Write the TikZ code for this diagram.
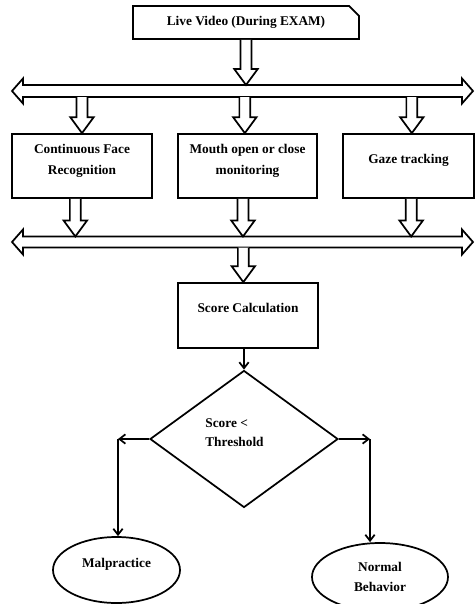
\documentclass[tikz,border=0pt]{standalone}
\usepackage{fontspec}
\setmainfont{Liberation Serif}
\usetikzlibrary{shapes.misc,shapes.geometric,arrows.meta,calc}

\newcommand{\fatdown}[2]{%
\draw[fat] let \p1=(#1), \p2=(#2) in
(\x1-4.1pt,\y1) -- (\x1-4.1pt,\y2+12pt) -- (\x1-8.8pt,\y2+12pt) -- (\x1,\y2)
-- (\x1+8.8pt,\y2+12pt) -- (\x1+4.1pt,\y2+12pt) -- (\x1+4.1pt,\y1);}

\begin{document}
\begin{tikzpicture}[x=0.75pt,y=-0.75pt,
box/.style={draw,line width=1.3pt,align=center,font=\fontsize{10}{15.75}\selectfont\bfseries},
txt/.style={font=\fontsize{10}{14.25}\selectfont\bfseries,inner sep=0pt},
fat/.style={line width=1.3pt,fill=white,line join=miter},
arr/.style={line width=1.3pt,-{Straight Barb[length=4.5pt,width=7pt]}}]
\useasboundingbox (0,0) rectangle (475,604);

\node[box,chamfered rectangle,chamfered rectangle corners=north east,chamfered rectangle xsep=3pt,chamfered rectangle ysep=4.5pt,minimum width=169.5pt,minimum height=23.25pt] (live) at (246,22.5) {Live Video (During EXAM)};

\coordinate (busAtop) at (0,85);
\coordinate (busAbot) at (0,97);
\coordinate (busBtop) at (0,236.5);
\coordinate (busBbot) at (0,247.5);
\draw[fat] (12,91) -- (23,78.5) -- (23,85) -- (462,85) -- (462,78.5) -- (473,91) -- (462,103.5) -- (462,97) -- (23,97) -- (23,103.5) -- cycle;
\draw[fat] (12,242) -- (23,229.5) -- (23,236.5) -- (462,236.5) -- (462,229.5) -- (473,242) -- (462,254.5) -- (462,247.5) -- (23,247.5) -- (23,254.5) -- cycle;

\node[box,minimum width=105pt,minimum height=48pt,text depth=9.25pt] (face) at (82,166) {Continuous Face\\Recognition};
\node[box,minimum width=104.25pt,minimum height=48pt,text depth=9.25pt] (mouth) at (247.5,166) {Mouth open or close\\monitoring};
\node[box,minimum width=98.25pt,minimum height=48pt,text depth=10.8pt] (gaze) at (408.5,166) {Gaze tracking};
\node[box,minimum width=105pt,minimum height=48.75pt,text depth=11.5pt] (score) at (248,315.5) {Score Calculation};

\fatdown{live.south}{busAtop}
\fatdown{face.north |- busAbot}{face.north}
\fatdown{[xshift=-2pt]mouth.north |- busAbot}{mouth.north}
\fatdown{[xshift=2.5pt]gaze.north |- busAbot}{gaze.north}
\fatdown{[xshift=-5pt]face.south}{busBtop}
\fatdown{[xshift=-3.4pt]mouth.south}{busBtop}
\fatdown{[xshift=2pt]gaze.south}{busBtop}
\fatdown{[xshift=-3.5pt]score.north |- busBbot}{score.north}

\node[draw,diamond,line width=1.3pt,minimum width=141pt,minimum height=102.75pt] (dec) at (244,439) {};
\node[txt,align=left] (crit) at (234.5,432.5) {Score <\\Threshold};

\node[box,ellipse,minimum width=95.25pt,minimum height=49.5pt,text depth=10.8pt] (mal) at (116.5,570) {Malpractice};
\node[box,ellipse,minimum width=102pt,minimum height=51pt,font=\fontsize{10}{15}\selectfont\bfseries] (nor) at (380,577) {Normal\\Behavior};

\coordinate (lc) at (118,439);
\coordinate (rc) at (370,439);
\draw[arr] (dec.north |- score.south) -- (dec.north);
\draw[arr] (dec.west) -- (lc);
\draw[arr] (lc) -- (lc |- mal.north);
\draw[arr] (dec.east) -- (rc);
\draw[arr] (rc) -- (rc |- nor.north);
\end{tikzpicture}
\end{document}
